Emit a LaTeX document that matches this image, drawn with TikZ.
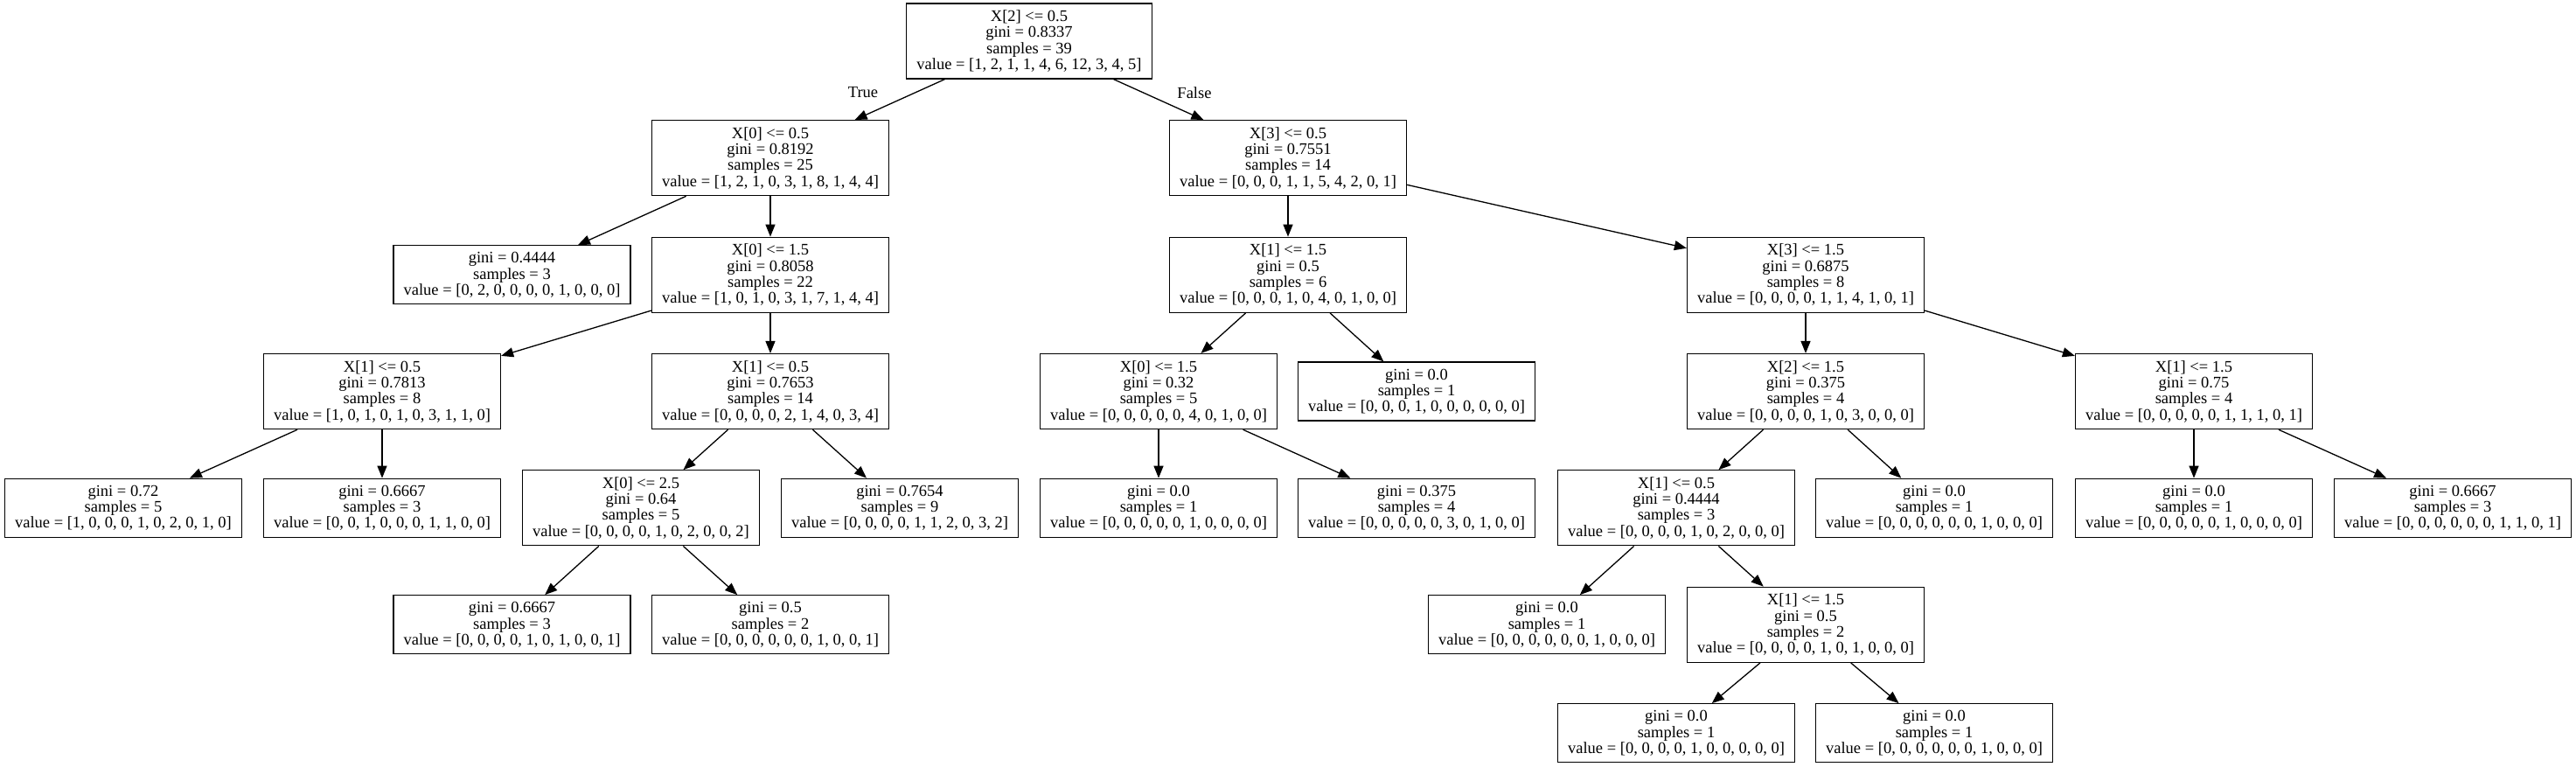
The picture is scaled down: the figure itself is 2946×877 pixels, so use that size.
\documentclass[tikz,border=0pt]{standalone}
\usepackage{fontspec}
\setmainfont{Liberation Serif}
\usetikzlibrary{arrows.meta}
\tikzset{
  treebox/.style={draw=black, line width=1.3pt, fill=white, align=center,
    inner sep=0pt, minimum width=271pt, font=\fontsize{18.5}{18.3}\selectfont},
  splitbox/.style={treebox, minimum height=86pt},
  leafbox/.style={treebox, minimum height=67pt},
  treelink/.style={draw=black, line width=1.3pt, -{Triangle[length=14pt,width=11pt]}},
  linklabel/.style={font=\fontsize{18.5}{18.3}\selectfont, inner sep=0pt}
}
\begin{document}
\begin{tikzpicture}[x=1pt,y=-1pt]
\useasboundingbox (0,0) rectangle (2946,877);
% level 0
\node[splitbox, minimum width=281pt] (root) at (1177,47) {X[2] <= 0.5\\gini = 0.8337\\samples = 39\\value = [1, 2, 1, 1, 4, 6, 12, 3, 4, 5]};
% level 1
\node[splitbox] (n1) at (881,180.7) {X[0] <= 0.5\\gini = 0.8192\\samples = 25\\value = [1, 2, 1, 0, 3, 1, 8, 1, 4, 4]};
\node[splitbox] (n2) at (1473,180.7) {X[3] <= 0.5\\gini = 0.7551\\samples = 14\\value = [0, 0, 0, 1, 1, 5, 4, 2, 0, 1]};
% level 2
\node[leafbox] (l1) at (585.5,314.3) {gini = 0.4444\\samples = 3\\value = [0, 2, 0, 0, 0, 0, 1, 0, 0, 0]};
\node[splitbox] (n3) at (881,314.3) {X[0] <= 1.5\\gini = 0.8058\\samples = 22\\value = [1, 0, 1, 0, 3, 1, 7, 1, 4, 4]};
\node[splitbox] (n4) at (1473,314.3) {X[1] <= 1.5\\gini = 0.5\\samples = 6\\value = [0, 0, 0, 1, 0, 4, 0, 1, 0, 0]};
\node[splitbox] (n5) at (2065,314.3) {X[3] <= 1.5\\gini = 0.6875\\samples = 8\\value = [0, 0, 0, 0, 1, 1, 4, 1, 0, 1]};
% level 3
\node[splitbox] (n6) at (437,447.6) {X[1] <= 0.5\\gini = 0.7813\\samples = 8\\value = [1, 0, 1, 0, 1, 0, 3, 1, 1, 0]};
\node[splitbox] (n7) at (881,447.6) {X[1] <= 0.5\\gini = 0.7653\\samples = 14\\value = [0, 0, 0, 0, 2, 1, 4, 0, 3, 4]};
\node[splitbox] (n8) at (1325,447.6) {X[0] <= 1.5\\gini = 0.32\\samples = 5\\value = [0, 0, 0, 0, 0, 4, 0, 1, 0, 0]};
\node[leafbox] (l2) at (1620,447.6) {gini = 0.0\\samples = 1\\value = [0, 0, 0, 1, 0, 0, 0, 0, 0, 0]};
\node[splitbox] (n9) at (2065,447.6) {X[2] <= 1.5\\gini = 0.375\\samples = 4\\value = [0, 0, 0, 0, 1, 0, 3, 0, 0, 0]};
\node[splitbox] (n10) at (2509,447.6) {X[1] <= 1.5\\gini = 0.75\\samples = 4\\value = [0, 0, 0, 0, 0, 1, 1, 1, 0, 1]};
% level 4
\node[leafbox] (l3) at (141,580.8) {gini = 0.72\\samples = 5\\value = [1, 0, 0, 0, 1, 0, 2, 0, 1, 0]};
\node[leafbox] (l4) at (437,580.8) {gini = 0.6667\\samples = 3\\value = [0, 0, 1, 0, 0, 0, 1, 1, 0, 0]};
\node[splitbox] (n11) at (733,580.8) {X[0] <= 2.5\\gini = 0.64\\samples = 5\\value = [0, 0, 0, 0, 1, 0, 2, 0, 0, 2]};
\node[leafbox] (l5) at (1029,580.8) {gini = 0.7654\\samples = 9\\value = [0, 0, 0, 0, 1, 1, 2, 0, 3, 2]};
\node[leafbox] (l6) at (1325,580.8) {gini = 0.0\\samples = 1\\value = [0, 0, 0, 0, 0, 1, 0, 0, 0, 0]};
\node[leafbox] (l7) at (1620,580.8) {gini = 0.375\\samples = 4\\value = [0, 0, 0, 0, 0, 3, 0, 1, 0, 0]};
\node[splitbox] (n12) at (1917,580.8) {X[1] <= 0.5\\gini = 0.4444\\samples = 3\\value = [0, 0, 0, 0, 1, 0, 2, 0, 0, 0]};
\node[leafbox] (l8) at (2212,580.8) {gini = 0.0\\samples = 1\\value = [0, 0, 0, 0, 0, 0, 1, 0, 0, 0]};
\node[leafbox] (l9) at (2509,580.8) {gini = 0.0\\samples = 1\\value = [0, 0, 0, 0, 0, 1, 0, 0, 0, 0]};
\node[leafbox] (l10) at (2805,580.8) {gini = 0.6667\\samples = 3\\value = [0, 0, 0, 0, 0, 0, 1, 1, 0, 1]};
% level 5
\node[leafbox] (l11) at (585.5,714.3) {gini = 0.6667\\samples = 3\\value = [0, 0, 0, 0, 1, 0, 1, 0, 0, 1]};
\node[leafbox] (l12) at (881,714.3) {gini = 0.5\\samples = 2\\value = [0, 0, 0, 0, 0, 0, 1, 0, 0, 1]};
\node[leafbox] (l13) at (1769,714.3) {gini = 0.0\\samples = 1\\value = [0, 0, 0, 0, 0, 0, 1, 0, 0, 0]};
\node[splitbox] (n13) at (2065,714.3) {X[1] <= 1.5\\gini = 0.5\\samples = 2\\value = [0, 0, 0, 0, 1, 0, 1, 0, 0, 0]};
% level 6
\node[leafbox] (l14) at (1917,838.3) {gini = 0.0\\samples = 1\\value = [0, 0, 0, 0, 1, 0, 0, 0, 0, 0]};
\node[leafbox] (l15) at (2212,838.3) {gini = 0.0\\samples = 1\\value = [0, 0, 0, 0, 0, 0, 1, 0, 0, 0]};
% edges
\draw[treelink] (root) -- (n1);
\draw[treelink] (root) -- (n2);
\node[linklabel] (lblT) at (987,106) {True};
\node[linklabel] (lblF) at (1366,106) {False};
\draw[treelink] (n1) -- (l1);
\draw[treelink] (n1) -- (n3);
\draw[treelink] (n3) -- (n6);
\draw[treelink] (n3) -- (n7);
\draw[treelink] (n6) -- (l3);
\draw[treelink] (n6) -- (l4);
\draw[treelink] (n7) -- (n11);
\draw[treelink] (n7) -- (l5);
\draw[treelink] (n11) -- (l11);
\draw[treelink] (n11) -- (l12);
\draw[treelink] (n2) -- (n4);
\draw[treelink] (n2) -- (n5);
\draw[treelink] (n4) -- (n8);
\draw[treelink] (n4) -- (l2);
\draw[treelink] (n8) -- (l6);
\draw[treelink] (n8) -- (l7);
\draw[treelink] (n5) -- (n9);
\draw[treelink] (n5) -- (n10);
\draw[treelink] (n9) -- (n12);
\draw[treelink] (n9) -- (l8);
\draw[treelink] (n12) -- (l13);
\draw[treelink] (n12) -- (n13);
\draw[treelink] (n13) -- (l14);
\draw[treelink] (n13) -- (l15);
\draw[treelink] (n10) -- (l9);
\draw[treelink] (n10) -- (l10);
\end{tikzpicture}
\end{document}
